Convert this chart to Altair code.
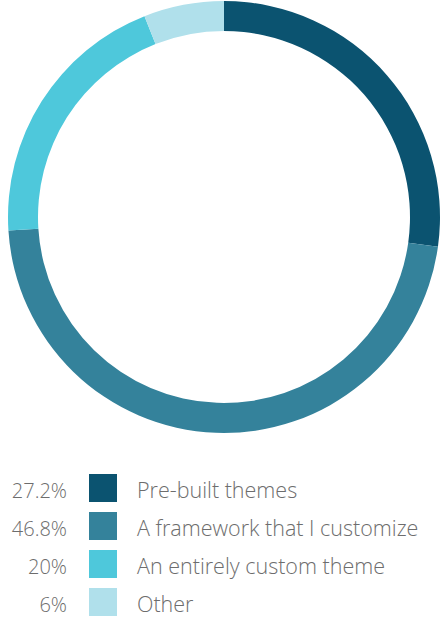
import altair as alt
import pandas as pd

labels = ["Pre-built themes", "A framework that I customize", "An entirely custom theme", "Other"]
values = [27.2, 46.8, 20, 6]
pct_labels = ["27.2%", "46.8%", "20%", "6%"]
colors = ["#0B5370", "#34829B", "#4EC8DB", "#B0E0EB"]
order = [0, 1, 2, 3]

df = pd.DataFrame({"label": labels, "value": values, "pct": pct_labels, "order": order})

color_scale = alt.Scale(domain=labels, range=colors)
y_scale = alt.Scale(type="point", domain=labels, range=[488, 602], padding=0)

arc = alt.Chart(df).mark_arc(outerRadius=216, innerRadius=186, stroke=None).encode(
    theta=alt.Theta("value:Q", stack=True),
    color=alt.Color("label:N", scale=color_scale, legend=None),
    order=alt.Order("order:Q"),
    x=alt.value(224),
    y=alt.value(217),
)

sq = alt.Chart(df).mark_square(size=784, opacity=1).encode(
    y=alt.Y("label:N", scale=y_scale, axis=None),
    x=alt.value(103),
    color=alt.Color("label:N", scale=color_scale, legend=None),
)

txt_style = dict(baseline="alphabetic", dy=10, font="Open Sans",
                 fontWeight=300, color="#6d6d6d")

pct = alt.Chart(df).mark_text(align="right", fontSize=20, **txt_style).encode(
    y=alt.Y("label:N", scale=y_scale, axis=None),
    x=alt.value(67),
    text="pct:N",
)

lab = alt.Chart(df).mark_text(align="left", fontSize=21.5, **txt_style).encode(
    y=alt.Y("label:N", scale=y_scale, axis=None),
    x=alt.value(137),
    text="label:N",
)

chart = alt.layer(arc, sq, pct, lab).properties(
    width=442, height=617, padding=0, autosize=alt.AutoSizeParams(type="none")
).configure_view(stroke=None)

chart.save("out.html", embed_options={"renderer": "svg", "actions": False})
